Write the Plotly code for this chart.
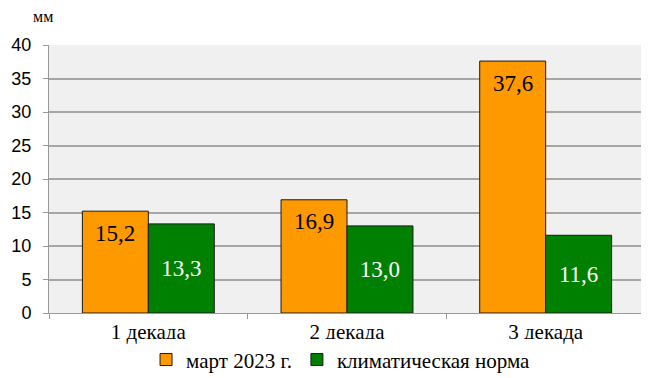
import plotly.graph_objects as go

categories = ["1 декада", "2 декада", "3 декада"]
march_2023 = [15.2, 16.9, 37.6]
climate_norm = [13.3, 13.0, 11.6]
series_names = ["март 2023 г.", "климатическая норма"]
y_ticks = [0, 5, 10, 15, 20, 25, 30, 35, 40]

def fmt(v):
    return f"{v:.1f}".replace(".", ",")

serif = "Liberation Serif"

fig = go.Figure()
fig.add_trace(go.Bar(
    x=categories, y=march_2023, name=series_names[0],
    marker=dict(color="#FF9900", line=dict(color="#1a1a1a", width=1)),
))
fig.add_trace(go.Bar(
    x=categories, y=climate_norm, name=series_names[1],
    marker=dict(color="#008000", line=dict(color="#1a1a1a", width=1)),
    text=[fmt(v) for v in climate_norm], textposition="inside",
    insidetextanchor="middle",
    textfont=dict(family=serif, size=23, color="white"),
))

annotations = []
for c, v in zip(categories, march_2023):
    annotations.append(dict(
        x=c, y=v, xref="x", yref="y", text=fmt(v), showarrow=False,
        xshift=-33, yshift=-22, font=dict(family=serif, size=23, color="black"),
    ))
annotations.append(dict(
    x=-0.01, y=1.105, xref="paper", yref="paper", text="мм", showarrow=False,
    xanchor="center", yanchor="middle", borderpad=0,
    font=dict(family=serif, size=16, color="black"),
))

fig.update_layout(
    width=649, height=378,
    margin=dict(l=41, r=12, t=37, b=73, autoexpand=False),
    paper_bgcolor="white",
    plot_bgcolor="#F0F0F0",
    barmode="group",
    bargap=0.336,
    bargroupgap=0,
    separators=", ",
    showlegend=True,
    legend=dict(
        orientation="h", x=0.49, xanchor="center", y=-0.175, yanchor="middle",
        font=dict(family=serif, size=21, color="black"),
        itemwidth=30, traceorder="normal",
    ),
    annotations=annotations,
    xaxis=dict(
        type="category", tickson="boundaries", ticks="outside", ticklen=5,
        tickcolor="#999999", showline=True, linecolor="#999999", linewidth=1,
        showgrid=False, tickfont=dict(family=serif, size=21, color="black"),
        automargin=False,
    ),
    yaxis=dict(
        range=[0, 40], tickvals=y_ticks, ticks="outside", ticklen=5,
        tickcolor="#999999", showline=True, linecolor="#999999", linewidth=1,
        gridcolor="#A6A6A6", gridwidth=1.5, zeroline=False,
        tickfont=dict(family="Liberation Sans", size=18, color="black"),
        ticklabelstandoff=8, automargin=False,
    ),
)

fig.write_html("out.html")
